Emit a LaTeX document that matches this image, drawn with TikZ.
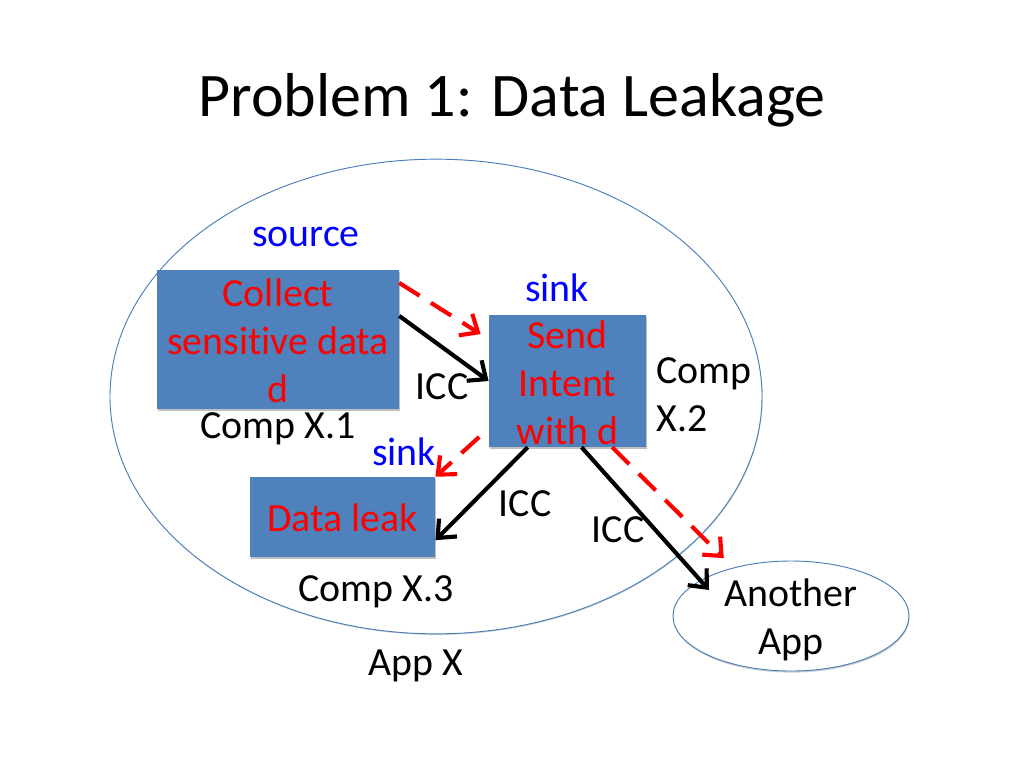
\documentclass[tikz,border=0pt]{standalone}
\usepackage{fontspec}
\setmainfont{Carlito}[Ligatures=NoCommon]
\usetikzlibrary{arrows.meta,shapes.geometric,shadows}
\definecolor{compblue}{HTML}{4F81BD}
\definecolor{lineblue}{HTML}{4A7EBB}
\tikzset{
    compbox/.style={draw=none,fill=compblue,inner sep=0pt,
        drop shadow={shadow xshift=0.6pt,shadow yshift=-1.6pt,opacity=0.5}},
    appshape/.style={ellipse,draw=lineblue,fill=white,line width=0.7pt,inner sep=0pt},
    txt/.style={inner sep=0pt,align=center,font=\fontsize{29.9}{36}\selectfont},
    redtxt/.style={txt,text=red},
    bluetxt/.style={txt,text=blue},
    flow/.style={line width=3.1pt,-{Straight Barb[length=11pt,width=19pt,line width=3.1pt]}},
    leak/.style={flow,red,dash pattern=on 18pt off 10pt},
}
\begin{document}
\begin{tikzpicture}[x=0.75pt,y=-0.75pt]
        \useasboundingbox (0,0) rectangle (1024,768);
        \node[txt,font=\fontsize{46.5}{56}\selectfont] (title) at (512,100) {Problem 1: Data Leakage};
        %% App X
        \node[appshape,minimum width=489pt,minimum height=356pt,drop shadow={shadow xshift=0.4pt,shadow yshift=-0.8pt,opacity=0.4}] (appx) at (436,396.5) {};
        \node[txt] (appxname) at (416,666) {App X};
        %% Components
        \node[compbox,minimum width=181.5pt,minimum height=104pt] (collect) at (278,339.5) {};
        \node[compbox,minimum width=118pt,minimum height=99pt] (send) at (567.5,381) {};
        \node[compbox,minimum width=139pt,minimum height=60pt] (dataleak) at (342.5,517) {};
        \node[redtxt] (collecttxt) at (278,341) {Collect\\sensitive data\\d};
        \node[redtxt] (sendtxt) at (567.5,382.5) {Send\\Intent\\with d};
        \node[redtxt] (dataleaktxt) at (342.5,518) {Data leak};
        %% Another App
        \node[appshape,minimum width=177pt,minimum height=82.5pt,drop shadow={shadow xshift=0.4pt,shadow yshift=-1.2pt,opacity=0.4}] (another) at (791,616) {};
        \node[txt] (anothertxt) at (791,620) {Another\\App};
        \coordinate (anotherin) at (709,590);
        %% Labels
        \node[bluetxt] (source) at (306,237) {source};
        \node[bluetxt] (sinksend) at (557,288) {sink};
        \node[bluetxt] (sinkleak) at (404,452) {sink};
        \node[txt] (compone) at (278,429) {Comp X.1};
        \node[txt,align=left] (comptwo) at (704,395) {Comp\\X.2};
        \node[txt] (compthree) at (376,592) {Comp X.3};
        \node[txt] (iccone) at (442,387) {ICC};
        \node[txt] (icctwo) at (525,504) {ICC};
        \node[txt] (iccthree) at (618,530) {ICC};
        %% ICC arrows
        \draw[flow] (collect.11) -- (send.180);
        \draw[flow] (send.239.7) -- (dataleak.-14);
        \draw[flow] (send.-78.4) -- (anotherin);
        %% Leak arrows
        \draw[leak,shorten >=7pt] (collect.25) -- (send.152);
        \draw[leak,shorten <=9.5pt] (send.211) -- (dataleak.north east);
        \draw[leak,shorten >=10pt] (send.-56) -- (another.140);
    \end{tikzpicture}
\end{document}
